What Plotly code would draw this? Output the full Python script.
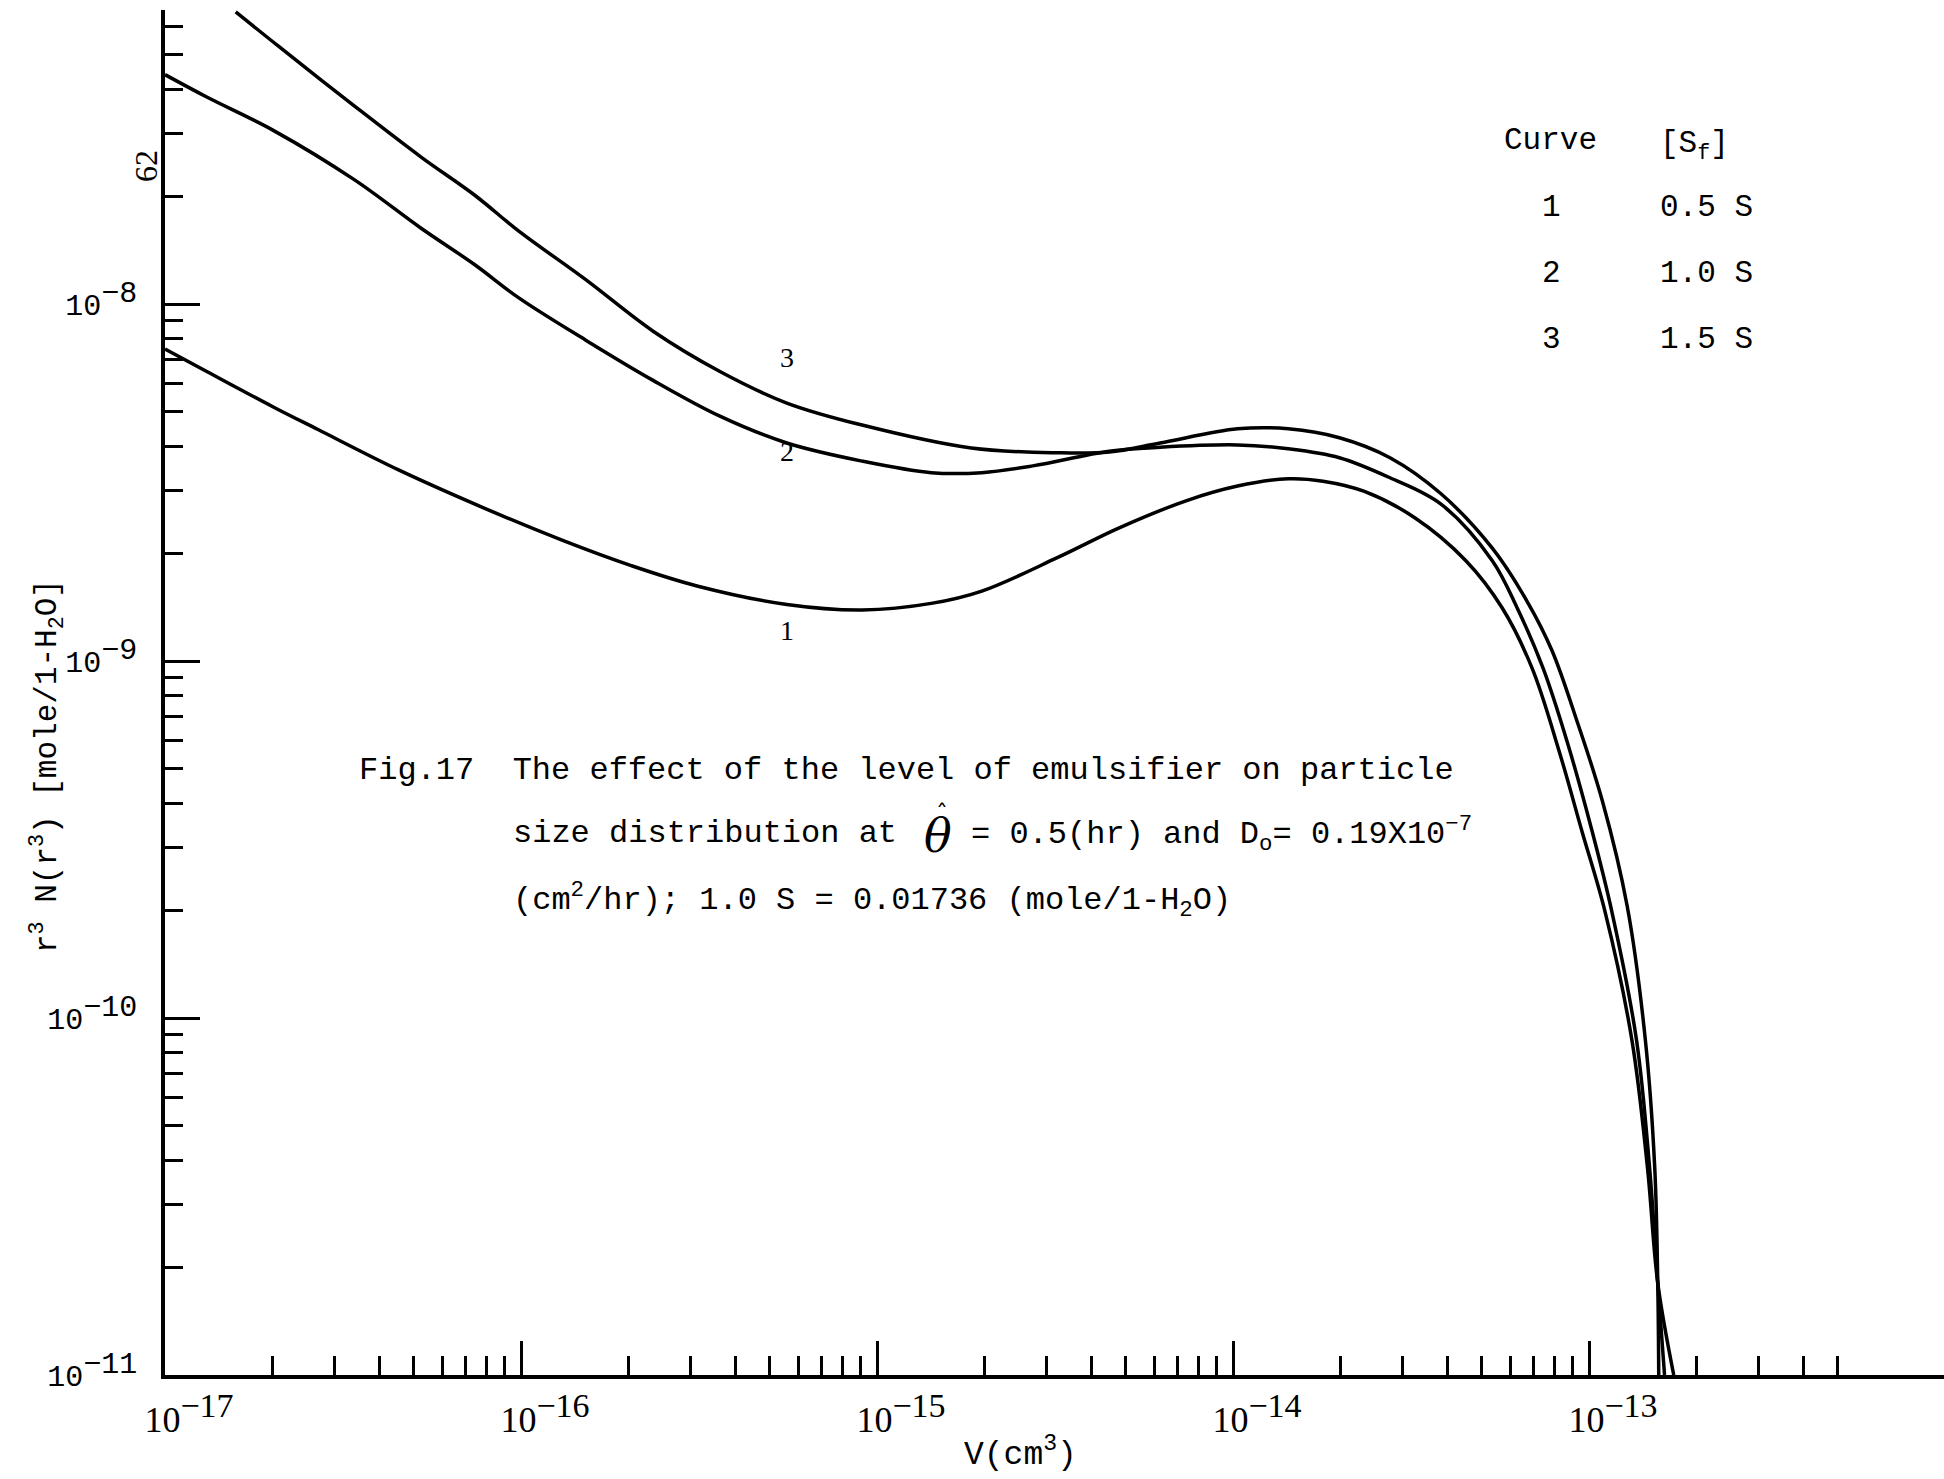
import plotly.graph_objects as go

# ---------------- data ----------------
# Curve 1 : [Sf] = 0.5 S
V1 = [1.00e-17, 1.31e-17, 2.02e-17, 2.69e-17, 4.53e-17, 7.82e-17, 1.32e-16, 2.04e-16,
      3.14e-16, 5.58e-16, 9.08e-16, 1.42e-15, 1.97e-15, 3.22e-15, 4.79e-15, 7.38e-15,
      1.03e-14, 1.43e-14, 1.79e-14, 2.33e-14, 3.24e-14, 4.51e-14, 5.70e-14, 6.92e-14,
      8.24e-14, 9.55e-14, 1.11e-13, 1.32e-13, 1.46e-13, 1.56e-13, 1.73e-13]
N1 = [7.48e-9, 6.47e-9, 5.14e-9, 4.45e-9, 3.43e-9, 2.69e-9, 2.17e-9, 1.85e-9,
      1.62e-9, 1.44e-9, 1.39e-9, 1.45e-9, 1.57e-9, 1.95e-9, 2.36e-9, 2.81e-9,
      3.09e-9, 3.24e-9, 3.19e-9, 2.99e-9, 2.52e-9, 1.91e-9, 1.41e-9, 9.55e-10,
      5.60e-10, 3.34e-10, 1.98e-10, 8.67e-11, 3.80e-11, 1.81e-11, 1.00e-11]

# Curve 2 : [Sf] = 1.0 S
V2 = [1.00e-17, 1.31e-17, 2.02e-17, 3.40e-17, 5.24e-17, 7.40e-17, 9.86e-17, 1.52e-16,
      2.35e-16, 3.62e-16, 5.58e-16, 9.08e-16, 1.42e-15, 1.97e-15, 2.74e-15, 4.49e-15,
      6.24e-15, 1.03e-14, 1.43e-14, 1.99e-14, 2.76e-14, 3.84e-14, 5.35e-14, 6.28e-14,
      7.43e-14, 8.67e-14, 1.02e-13, 1.16e-13, 1.36e-13, 1.48e-13, 1.56e-13, 1.63e-13]
N2 = [4.39e-8, 3.80e-8, 3.06e-8, 2.23e-8, 1.63e-8, 1.29e-8, 1.04e-8, 7.92e-9,
      6.11e-9, 4.85e-9, 4.08e-9, 3.63e-9, 3.37e-9, 3.37e-9, 3.52e-9, 3.87e-9,
      3.97e-9, 4.03e-9, 3.93e-9, 3.71e-9, 3.26e-9, 2.75e-9, 1.91e-9, 1.41e-9,
      9.55e-10, 5.97e-10, 3.34e-10, 1.98e-10, 8.67e-11, 3.80e-11, 1.81e-11, 1.00e-11]

# Curve 3 : [Sf] = 1.5 S
V3 = [1.58e-17, 2.07e-17, 3.40e-17, 5.24e-17, 7.40e-17, 9.86e-17, 1.52e-16, 2.35e-16,
      3.62e-16, 5.58e-16, 9.08e-16, 1.84e-15, 3.22e-15, 4.49e-15, 6.24e-15, 1.03e-14,
      1.43e-14, 1.99e-14, 2.76e-14, 3.84e-14, 5.35e-14, 6.70e-14, 7.87e-14, 9.25e-14,
      1.09e-13, 1.28e-13, 1.44e-13, 1.53e-13, 1.56e-13, 1.57e-13]
N3 = [6.58e-8, 5.30e-8, 3.59e-8, 2.58e-8, 2.02e-8, 1.60e-8, 1.17e-8, 8.39e-9,
      6.47e-9, 5.28e-9, 4.58e-9, 3.95e-9, 3.83e-9, 3.85e-9, 4.08e-9, 4.47e-9,
      4.47e-9, 4.22e-9, 3.71e-9, 2.94e-9, 2.07e-9, 1.47e-9, 1.07e-9, 6.79e-10,
      4.06e-10, 2.06e-10, 8.67e-11, 3.80e-11, 1.81e-11, 1.00e-11]

CURVE_IDS = ["1", "2", "3"]
SF_LEVELS = ["0.5 S", "1.0 S", "1.5 S"]

X_TICKS = [1e-17, 1e-16, 1e-15, 1e-14, 1e-13]
X_TICK_EXP = ["−17", "−16", "−15", "−14", "−13"]
Y_TICKS = [1e-11, 1e-10, 1e-9, 1e-8]
Y_TICK_EXP = ["−11", "−10", "−9", "−8"]
X_MINOR = [m * 10.0 ** e for e in range(-17, -13) for m in range(2, 10)] + [m * 1e-13 for m in (2, 3, 4, 5)]
Y_MINOR = [m * 10.0 ** e for e in range(-11, -8) for m in range(2, 10)] + [m * 1e-8 for m in (2, 3, 4, 5, 6)]

# ---------------- layout geometry ----------------
W, H = 1944, 1479
ML, MR, MT, MB = 165, 0, 10, 104
PW, PH = W - ML - MR, H - MT - MB


def px(X):
    return (X - ML) / PW


def py(Y):
    return (H - MB - Y) / PH


MONO = "Liberation Mono, Courier New, monospace"
SERIF = "Liberation Serif, Times New Roman, serif"

fig = go.Figure()
for V, N in ((V1, N1), (V2, N2), (V3, N3)):
    fig.add_trace(go.Scatter(x=V, y=N, mode="lines",
                             line=dict(color="black", width=3.5, shape="spline", smoothing=1.0),
                             showlegend=False, hoverinfo="skip"))

xtext = [f"10<sup><span style='font-size:34px'>{e}</span></sup>" for e in X_TICK_EXP]
ytext = [f"10<sup><span style='font-size:30px'>{e}</span></sup>" for e in Y_TICK_EXP]

fig.update_layout(
    width=W, height=H,
    margin=dict(l=ML, r=MR, t=MT, b=MB, pad=0),
    paper_bgcolor="white", plot_bgcolor="white",
    showlegend=False,
    xaxis=dict(type="log", range=[-17, -17 + PW / 356.0],
               showgrid=False, zeroline=False,
               showline=True, linecolor="black", linewidth=3.5,
               tickmode="array", tickvals=X_TICKS, ticktext=xtext,
               ticks="inside", ticklen=34, tickwidth=3, tickcolor="black",
               tickfont=dict(family=SERIF, size=36, color="black"),
               ticklabelshift=24, ticklabelstandoff=10,
               minor=dict(tickmode="array", tickvals=X_MINOR, ticks="inside",
                          ticklen=19, tickwidth=3, tickcolor="black", showgrid=False)),
    yaxis=dict(type="log", range=[-11, -11 + PH / 357.0],
               showgrid=False, zeroline=False,
               showline=True, linecolor="black", linewidth=3.5,
               tickmode="array", tickvals=Y_TICKS, ticktext=ytext,
               ticks="inside", ticklen=35, tickwidth=3, tickcolor="black",
               tickfont=dict(family=MONO, size=30, color="black"),
               ticklabelstandoff=18,
               minor=dict(tickmode="array", tickvals=Y_MINOR, ticks="inside",
                          ticklen=18, tickwidth=3, tickcolor="black", showgrid=False)),
)


def ann(text, X, Y, size, family=MONO, xanchor="center", yanchor="middle", angle=0):
    fig.add_annotation(text=text, x=px(X), y=py(Y), xref="paper", yref="paper",
                       xanchor=xanchor, yanchor=yanchor, showarrow=False, textangle=angle,
                       font=dict(family=family, size=size, color="black"))


# axis titles
ann("V(cm<sup>3</sup>)", 1020, 1452, 33)
ann("r<sup>3</sup> N(r<sup>3</sup>) [mole/1-H<sub>2</sub>O]", 47, 766, 31, angle=-90)

# page number
ann("62", 146, 166, 32, family=SERIF, angle=-90)

# legend table
ann("Curve", 1550, 140, 31)
ann("[S<sub>f</sub>]", 1658, 146, 31, xanchor="left")
for i, (cid, lev) in enumerate(zip(CURVE_IDS, SF_LEVELS)):
    yy = 207 + i * 66
    ann(cid, 1551, yy, 31)
    ann(lev, 1658, yy, 31, xanchor="left")

# curve labels
ann("3", 787, 357, 28, family=SERIF)
ann("2", 787, 452, 28, family=SERIF)
ann("1", 787, 630, 28, family=SERIF)

# caption
ann("Fig.17\u00a0\u00a0The effect of the level of emulsifier on particle", 357, 770, 32, xanchor="left")
ann("size distribution at", 511, 833, 32, xanchor="left")
ann("<i>θ</i>", 938, 836, 46, family="DejaVu Serif, Liberation Serif, serif")
ann("ˆ", 942, 814, 24, family="DejaVu Sans, sans-serif")
ann("= 0.5(hr) and D<sub>o</sub>= 0.19X10<sup>−7</sup>", 969, 834, 32, xanchor="left")
ann("(cm<sup>2</sup>/hr); 1.0 S = 0.01736 (mole/1-H<sub>2</sub>O)", 511, 900, 32, xanchor="left")

fig.write_html("out.html")
